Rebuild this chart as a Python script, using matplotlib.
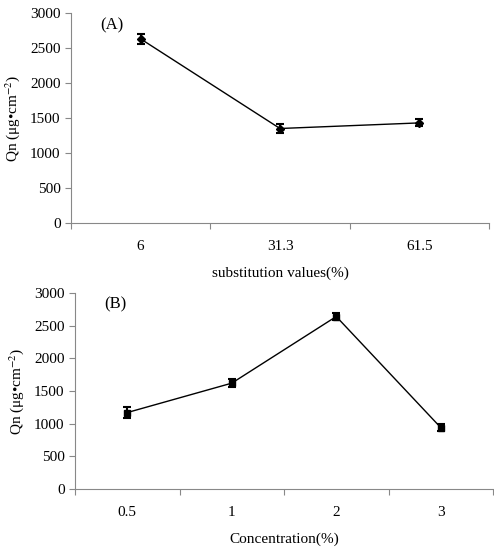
import matplotlib
matplotlib.use("Agg")
import matplotlib.pyplot as plt

plt.rcParams['font.family'] = ['Liberation Serif', 'DejaVu Serif']
plt.rcParams['mathtext.fontset'] = 'stix'
plt.rcParams['font.size'] = 11

# panel A: substitution values
sub_labels = ["6", "31.3", "61.5"]
sub_qn = [2630, 1350, 1430]
sub_err = [70, 70, 50]

# panel B: concentration
conc_labels = ["0.5", "1", "2", "3"]
conc_qn = [1170, 1620, 2640, 940]
conc_err = [90, 60, 60, 50]

fig = plt.figure(figsize=(4.94, 5.5), dpi=100)
ax1 = fig.add_axes([71 / 494, 1 - 223 / 550, 418 / 494, 210 / 550])
ax2 = fig.add_axes([75 / 494, 1 - 489 / 550, 418 / 494, 196 / 550])


def draw_panel(ax, labels, values, errs, marker, msize, tag, xlabel):
    n = len(labels)
    xs = [i + 0.5 for i in range(n)]
    ax.errorbar(xs, values, yerr=errs, color='black', marker=marker,
                markersize=msize, linewidth=1, capsize=3, elinewidth=1.5,
                capthick=1.5)
    ax.set_xlim(0, n)
    ax.set_ylim(0, 3000)
    ax.set_yticks(range(0, 3001, 500))
    ax.set_xticks(range(n + 1))
    ax.set_xticklabels([])
    ax.set_xticks(xs, minor=True)
    ax.set_xticklabels(labels, minor=True)
    ax.tick_params(axis='x', which='minor', length=0, pad=12)
    ax.tick_params(axis='x', which='major', length=4, direction='out', color='#888888')
    ax.tick_params(axis='y', length=4, direction='out', color='#888888')
    for side in ['top', 'right']:
        ax.spines[side].set_visible(False)
    for side in ['left', 'bottom']:
        ax.spines[side].set_color('#888888')
    ax.set_ylabel("Qn (μg•cm$^{-2}$)", labelpad=6)
    ax.set_xlabel(xlabel, labelpad=10)
    ax.text(0.07, 0.92, tag, transform=ax.transAxes, fontsize=12)


draw_panel(ax1, sub_labels, sub_qn, sub_err, 'D', 4.5, '(A)', 'substitution values(%)')
draw_panel(ax2, conc_labels, conc_qn, conc_err, 's', 4.5, '(B)', 'Concentration(%)')

fig.savefig("out.png", dpi=100)
